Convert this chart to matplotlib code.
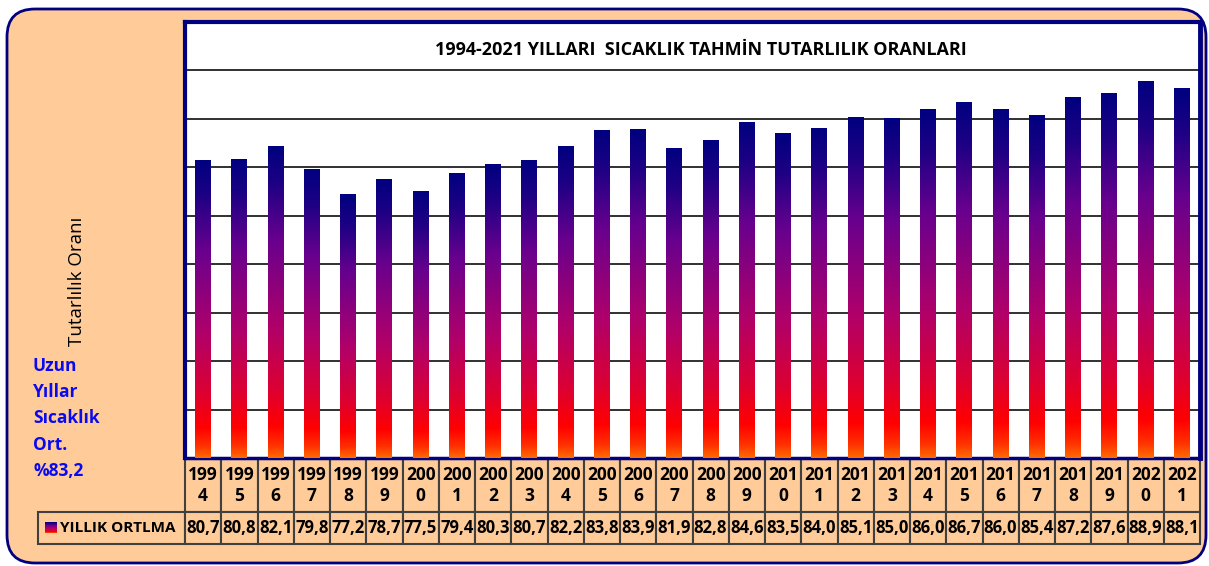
import numpy as np
import matplotlib
matplotlib.use('Agg')
import matplotlib.pyplot as plt
from matplotlib.patches import FancyBboxPatch, Rectangle
from matplotlib.colors import LinearSegmentedColormap

# données
yillar = list(range(1994, 2022))
oranlar = [80.7, 80.8, 82.1, 79.8, 77.2, 78.7, 77.5, 79.4, 80.3, 80.7,
           82.2, 83.8, 83.9, 81.9, 82.8, 84.6, 83.5, 84.0, 85.1, 85.0,
           86.0, 86.7, 86.0, 85.4, 87.2, 87.6, 88.9, 88.1]
baslik = "1994-2021 YILLARI  SICAKLIK TAHMİN TUTARLILIK ORANLARI"
seri_adi = "YILLIK ORTLMA"
eksen_adi = "Tutarlılık Oranı"
not_metni = ["Uzun", "Yıllar", "Sıcaklık", "Ort.", "%83,2"]

plt.rcParams['font.family'] = ['Open Sans', 'DejaVu Sans']

W, H = 1209, 566
PEACH = "#FFCC99"
NAVY = "#000080"

# dégradé des barres (bas -> haut)
cmap = LinearSegmentedColormap.from_list("barre", [
    (0.00, "#FF6A00"),
    (0.04, "#FF3000"),
    (0.10, "#FF0000"),
    (0.22, "#DC0032"),
    (0.42, "#B0006A"),
    (0.70, "#68008E"),
    (0.88, "#1E0084"),
    (1.00, "#000080"),
])

fig = plt.figure(figsize=(W / 100, H / 100), dpi=100)
fig.patch.set_facecolor("white")

# fond arrondi
bg = fig.add_axes([0, 0, 1, 1], zorder=0)
bg.set_xlim(0, W)
bg.set_ylim(H, 0)
bg.axis("off")
bg.add_patch(FancyBboxPatch((7, 9), 1199, 554,
                            boxstyle="round,pad=0,rounding_size=28",
                            fc=PEACH, ec=NAVY, lw=2))

# zone du graphique
x0, x1 = 185, 1200
y_top, y_bas = 22, 458
ax = fig.add_axes([x0 / W, (H - y_bas) / H, (x1 - x0) / W, (y_bas - y_top) / H], zorder=2)
ax.set_facecolor("white")
x = np.arange(len(yillar))
w = 0.44
grad = np.linspace(0, 1, 256).reshape(-1, 1)
for xi, v in zip(x, oranlar):
    ax.imshow(grad, extent=(xi - w / 2, xi + w / 2, 50, v), origin="lower",
              cmap=cmap, aspect="auto", zorder=3, interpolation="bilinear")
ax.set_xlim(-0.5, len(yillar) - 0.5)
ax.set_ylim(50, 95.0)
ax.set_yticks(range(55, 95, 5))
ax.set_xticks([])
ax.tick_params(axis="y", length=0, labelleft=False)
ax.yaxis.grid(True, color="#202020", lw=1.3)
ax.set_axisbelow(True)
for s in ["left", "top", "right"]:
    ax.spines[s].set_color(NAVY)
    ax.spines[s].set_linewidth(3)
ax.spines["bottom"].set_color(NAVY)
ax.spines["bottom"].set_linewidth(2.5)
ax.spines["right"].set_linewidth(3.5)

# titre
fig.text(701 / W, 1 - 50 / H, baslik, ha="center", va="center", fontsize=13,
         fontweight="bold", color="black", zorder=5)

# titre de l'axe et note
bg.text(77, 281, eksen_adi, rotation=90, ha="center", va="center",
        fontsize=13.5, color="black")
for i, satir in enumerate(not_metni):
    bg.text(33, 366 + i * 26.2, satir, ha="left", va="center", fontsize=12.5,
            fontweight="bold", color="#0A0AF0")

# tableau des données
tab = fig.add_axes([x0 / W, (H - 544) / H, (x1 - x0) / W, (544 - 459) / H],
                   sharex=ax, zorder=1)
tab.set_ylim(0, 85)
tab.axis("off")
for xi, yil, v in zip(x, yillar, oranlar):
    tab.add_patch(Rectangle((xi - 0.5, 32), 1, 53, fc=PEACH, ec="#404040",
                            lw=1.5, clip_on=False))
    tab.add_patch(Rectangle((xi - 0.5, 0), 1, 32, fc=PEACH, ec="#404040",
                            lw=1.5, clip_on=False))
    s = str(yil)
    tab.text(xi, 58.5, s[:3] + "\n" + s[3:], ha="center", va="center",
             fontsize=12.5, fontweight="bold", linespacing=1.25)
    tab.text(xi, 16, f"{v:.1f}".replace(".", ","), ha="center", va="center",
             fontsize=12, fontweight="bold")

# cellule de légende
bg.add_patch(Rectangle((38, 512), 147, 32, fc=PEACH, ec="#404040", lw=1.5,
                       zorder=1))
bg.imshow(grad, extent=(45, 57, 533, 522), origin="lower", cmap=cmap,
          aspect="auto", zorder=2)
bg.text(60, 528, seri_adi, ha="left", va="center", fontsize=11,
        fontweight="bold", zorder=3)
bg.set_xlim(0, W)
bg.set_ylim(H, 0)

fig.savefig("out.png", dpi=100)
plt.close(fig)
